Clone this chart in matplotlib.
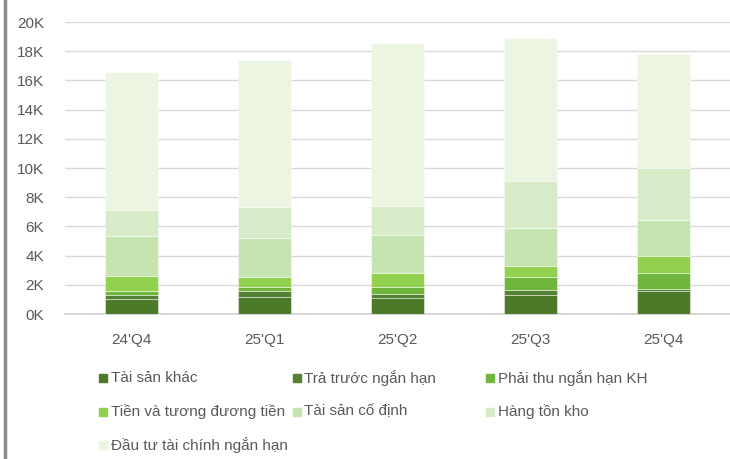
import matplotlib.pyplot as plt
import numpy as np
from matplotlib.patches import Rectangle
from matplotlib.lines import Line2D
from matplotlib.ticker import FuncFormatter

plt.rcParams['font.family'] = ['Liberation Sans', 'DejaVu Sans']

quarters = ["24'Q4", "25'Q1", "25'Q2", "25'Q3", "25'Q4"]

series_names = ["Tài sản khác", "Trả trước ngắn hạn", "Phải thu ngắn hạn KH",
                "Tiền và tương đương tiền", "Tài sản cố định", "Hàng tồn kho",
                "Đầu tư tài chính ngắn hạn"]

tai_san_khac = [1030, 1190, 1080, 1280, 1550]
tra_truoc = [290, 390, 320, 340, 180]
phai_thu = [270, 300, 480, 940, 1100]
tien = [1020, 680, 930, 740, 1140]
tscd = [2700, 2630, 2610, 2560, 2490]
hang_ton_kho = [1780, 2160, 1990, 3270, 3520]
dau_tu = [9490, 10070, 11150, 9770, 7830]

colors = ['#4d7a29', '#548136', '#70b53c', '#92d050', '#c5e4b0', '#d7ebc8', '#ebf5e2']

series = [tai_san_khac, tra_truoc, phai_thu, tien, tscd, hang_ton_kho, dau_tu]

fig = plt.figure(figsize=(7.3, 4.59), dpi=100)
ax = fig.add_axes([65 / 730, 1 - 314 / 459, 1 - 65 / 730, (314 - 22) / 459])

x = np.arange(len(quarters))
bottom = np.zeros(len(quarters))
for vals, col in zip(series, colors):
    ax.bar(x, vals, width=0.4, bottom=bottom, color=col,
           edgecolor=(1, 1, 1, 0.45), linewidth=0.7, zorder=3)
    bottom += np.array(vals)

ax.set_xlim(-0.5, len(quarters) - 0.5)
ax.set_ylim(0, 20000)
ax.set_yticks(np.arange(0, 20001, 2000))
ax.yaxis.set_major_formatter(FuncFormatter(lambda v, p: f"{v / 1000:.0f}K"))
ax.set_xticks(x)
ax.set_xticklabels(quarters)
ax.grid(axis='y', color='#d9d9d9', linewidth=1, zorder=0)
ax.set_axisbelow(True)
for s in ['top', 'right', 'left']:
    ax.spines[s].set_visible(False)
ax.spines['bottom'].set_color('#d0d0d0')
ax.spines['bottom'].set_linewidth(1.2)
ax.tick_params(axis='both', length=0, labelsize=11, colors='#595959')
ax.tick_params(axis='y', pad=15)
ax.tick_params(axis='x', pad=14)

# legend, laid out row-wise in three columns
W, H = 730, 459
for i, (name, col) in enumerate(zip(series_names, colors)):
    r, c = divmod(i, 3)
    px = 99 + c * 193.5
    py = 378 + r * 33.5
    fig.patches.append(Rectangle((px / W, 1 - (py + 4) / H), 8 / W, 8 / H,
                                 transform=fig.transFigure, color=col))
    fig.text((px + 12) / W, 1 - py / H, name, fontsize=11, color='#595959',
             va='center', ha='left')

# gray border line at left edge
fig.add_artist(Line2D([4.5 / W, 4.5 / W], [0, 1], transform=fig.transFigure,
                      color='#8c8c8c', linewidth=2.5))

fig.savefig('out.png', dpi=100)
